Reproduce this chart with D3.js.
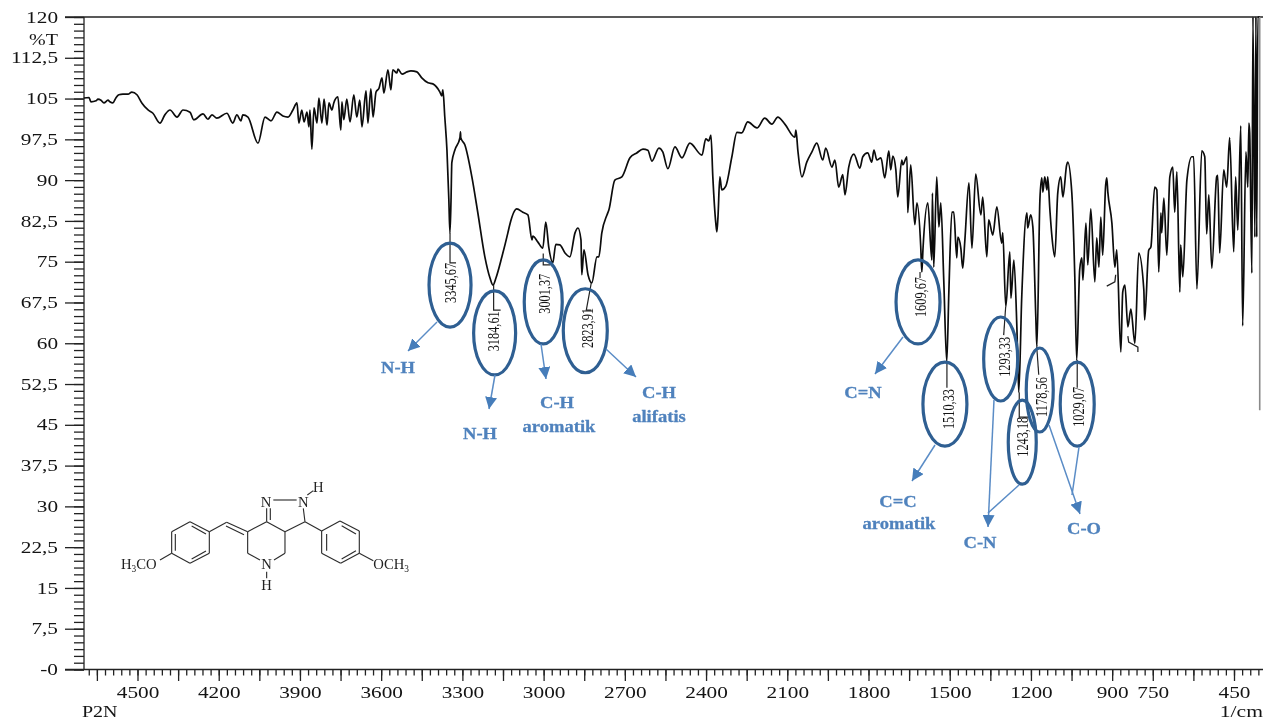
<!DOCTYPE html>
<html>

<head>
	<title>P2N FTIR spectrum</title>
	<style>
		html, body {
			margin: 0;
			background: #fff;
			overflow: hidden;
		}
		svg {
			display: block;
			filter: blur(0.4px);
		}
		text {
			font-family: "Liberation Serif", serif;
			fill: #141414;
		}
		.axis path {
			display: none;
		}
		.axis line, .frame {
			stroke: #222;
			stroke-width: 1.3;
		}
		.tag {
			font-weight: bold;
			font-size: 17.5px;
			fill: #4f82bd;
			stroke: #4f82bd;
			stroke-width: 0.3;
			text-anchor: middle;
		}
	</style>
</head>

<body>
	<script src="https://cdnjs.cloudflare.com/ajax/libs/d3/7.8.5/d3.min.js"></script>
	<script type="text/javascript">
		// spectrum (1/cm and %T)
		var wave = [4698, 4679, 4672, 4653, 4646, 4635, 4624, 4609, 4602, 4591, 4580, 4569, 4554, 4535, 4521, 4502, 4484, 4461, 4443, 4417,
			4399, 4380, 4354, 4332, 4306, 4292, 4258, 4240, 4225, 4207, 4170, 4148, 4133, 4118, 4111, 4092, 4055, 4029, 4007, 3985,
			3963, 3944, 3926, 3911, 3904, 3893, 3885, 3874, 3867, 3863, 3856, 3848, 3837, 3830, 3819, 3811, 3800, 3793, 3782, 3775,
			3760, 3749, 3745, 3738, 3727, 3715, 3701, 3690, 3679, 3671, 3656, 3649, 3638, 3630, 3619, 3608, 3597, 3590, 3575, 3564,
			3557, 3542, 3538, 3523, 3505, 3490, 3468, 3450, 3427, 3409, 3383, 3376, 3372, 3365, 3357, 3350, 3346, 3342, 3339, 3328,
			3309, 3307, 3306, 3291, 3265, 3243, 3217, 3198, 3187, 3176, 3154, 3132, 3125, 3099, 3077, 3058, 3043, 3040, 3021, 3003,
			2992, 2981, 2966, 2955, 2940, 2921, 2903, 2884, 2873, 2862, 2859, 2851, 2836, 2822, 2803, 2796, 2785, 2766, 2759, 2737,
			2711, 2681, 2656, 2633, 2615, 2600, 2574, 2560, 2541, 2515, 2489, 2460, 2415, 2401, 2390, 2382, 2375, 2364, 2360, 2356,
			2349, 2342, 2327, 2305, 2286, 2268, 2246, 2212, 2183, 2157, 2135, 2109, 2072, 2068, 2061, 2046, 2028, 2009, 1991, 1969,
			1958, 1935, 1924, 1910, 1895, 1887, 1873, 1854, 1832, 1821, 1803, 1788, 1780, 1769, 1754, 1740, 1725, 1718, 1710, 1699,
			1692, 1677, 1673, 1658, 1655, 1644, 1629, 1621, 1607, 1603, 1599, 1581, 1566, 1564, 1559, 1548, 1540, 1533, 1522, 1511,
			1503, 1492, 1485, 1474, 1470, 1459, 1452, 1444, 1429, 1418, 1404, 1385, 1378, 1363, 1356, 1341, 1326, 1308, 1304, 1293,
			1278, 1274, 1263, 1252, 1245, 1234, 1215, 1212, 1201, 1193, 1182, 1178, 1167, 1160, 1156, 1149, 1141, 1138, 1130, 1123,
			1112, 1101, 1090, 1082, 1068, 1064, 1049, 1038, 1031, 1020, 1012, 1008, 997, 990, 979, 964, 957, 949, 942, 935,
			924, 920, 916, 901, 890, 883, 868, 861, 853, 842, 831, 816, 802, 783, 780, 765, 757, 743, 735, 728,
			720, 717, 709, 698, 687, 676, 669, 661, 650, 647, 639, 624, 606, 599, 587, 569, 558, 551, 543, 532,
			514, 510, 503, 488, 477, 466, 451, 444, 436, 425, 418, 406, 399, 395, 392, 384, 380, 373, 369, 366, 362, 355, 355];
		var trans = [105.1, 105.2, 104.4, 104.6, 104.9, 104.7, 104.2, 104.7, 104.4, 104.2, 105.1, 105.7, 105.8, 105.8, 106.2, 105.7, 104.2, 102.9, 102.3, 100.5,
			102.0, 102.9, 101.6, 102.9, 102.5, 101.1, 102.2, 101.2, 102.0, 101.4, 102.3, 100.5, 102.0, 100.9, 102.0, 101.6, 96.8, 101.6, 100.9, 102.5,
			101.8, 101.6, 102.9, 104.2, 100.5, 102.9, 100.7, 102.5, 99.8, 102.9, 95.7, 103.3, 100.5, 105.1, 100.5, 104.9, 100.1, 104.2, 102.9, 104.2,
			105.3, 99.2, 104.4, 101.1, 104.9, 100.7, 105.7, 101.6, 104.7, 99.8, 106.4, 100.5, 106.8, 101.6, 106.2, 106.9, 108.8, 106.0, 110.3, 106.6,
			110.3, 109.7, 110.4, 109.5, 109.9, 110.1, 109.9, 108.8, 107.9, 107.7, 106.2, 105.5, 106.6, 101.6, 95.5, 86.3, 80.3, 86.3, 93.2, 95.5,
			97.8, 98.9, 97.8, 96.5, 90.6, 84.0, 75.9, 72.0, 70.7, 72.0, 75.9, 80.3, 81.8, 84.7, 84.1, 83.6, 79.0, 79.7, 78.6, 77.5,
			82.3, 77.7, 74.8, 78.2, 78.1, 76.6, 75.9, 80.3, 81.2, 79.0, 72.6, 77.2, 72.6, 71.1, 75.9, 75.9, 80.3, 83.6, 84.5, 90.0,
			90.6, 94.1, 95.0, 95.7, 95.5, 93.5, 95.9, 95.2, 92.1, 96.1, 94.1, 96.8, 94.6, 97.6, 97.2, 98.3, 90.6, 82.1, 80.5, 83.2,
			90.6, 88.2, 88.9, 94.2, 98.8, 98.7, 100.7, 99.6, 101.4, 100.3, 101.6, 100.3, 97.9, 99.2, 95.5, 90.6, 93.3, 95.2, 96.8, 93.7,
			95.9, 92.4, 93.7, 88.7, 91.0, 87.3, 92.4, 94.8, 92.2, 94.3, 95.0, 93.3, 95.5, 93.7, 94.1, 90.4, 95.4, 91.9, 94.4, 91.9,
			86.9, 93.7, 92.8, 94.3, 84.0, 92.8, 81.8, 85.8, 77.7, 73.1, 77.1, 85.8, 75.3, 87.6, 74.0, 90.6, 81.4, 85.8, 71.6, 56.6,
			69.8, 84.1, 84.1, 75.7, 79.5, 77.5, 73.8, 79.0, 89.5, 77.5, 91.1, 83.6, 86.9, 75.9, 82.7, 79.9, 85.1, 78.4, 80.3, 66.7,
			76.8, 68.3, 75.3, 63.0, 51.0, 68.5, 84.0, 81.2, 83.6, 81.4, 64.8, 59.3, 86.3, 90.4, 87.8, 90.6, 88.2, 90.6, 84.5, 79.9,
			75.9, 87.6, 90.6, 86.9, 92.8, 93.3, 87.6, 72.2, 56.9, 73.5, 75.7, 71.6, 82.1, 74.4, 84.7, 71.3, 79.4, 74.0, 83.2, 76.2,
			89.1, 90.4, 87.8, 82.1, 74.0, 77.2, 58.4, 69.4, 70.7, 63.0, 66.3, 60.0, 76.6, 69.8, 64.3, 77.1, 77.7, 88.7, 88.2, 73.1,
			84.0, 80.3, 86.7, 76.2, 90.6, 92.4, 84.1, 91.5, 69.4, 78.1, 72.2, 90.0, 94.3, 94.3, 70.0, 95.4, 94.3, 80.1, 87.3, 73.8,
			90.6, 90.9, 76.6, 91.9, 88.7, 97.8, 76.8, 90.6, 80.8, 100.0, 63.2, 95.2, 88.7, 100.5, 98.7, 72.9, 120, 79.5, 120, 79.5, 120, 120, 47.7];

		// broken bits of trace near 900 and 820 1/cm
		var bitsWave = [[920, 890, 887], [842, 839, 805, 805]];
		var bitsTrans = [[70.5, 71.3, 72.6], [61.3, 60.2, 59.3, 58.4]];

		// axis labels
		var xTickLabels = [4500, 4200, 3900, 3600, 3300, 3000, 2700, 2400, 2100, 1800, 1500, 1200, 900, 750, 450];

		// picked peaks
		var peakWave = [3345.67, 3184.61, 3001.37, 2823.91, 1609.67, 1510.33, 1293.33, 1243.18, 1178.56, 1029.07];
		var peakTrans = [80.3, 70.7, 76.5, 71.1, 73.1, 56.6, 66.7, 51.0, 59.3, 56.9];
		var peakNames = ["3345,67", "3184,61", "3001,37", "2823,91", "1609,67", "1510,33", "1293,33", "1243,18", "1178,56", "1029,07"];

		// overlay layout, one row per peak
		var ovalShift = [0, 1, 0, -6, -2, -2, -5, 3, 3, 0];
		var ovalMid = [70.7, 61.9, 67.6, 62.3, 67.6, 48.8, 57.1, 41.8, 51.4, 48.8];
		var ovalWide = [21, 21, 19, 22, 22, 22, 17, 14, 13.5, 17];
		var nameShift = [1, 0, 1, -4, 1, 2, -1, 3, 5, 1];
		var nameMid = [71.1, 62.2, 69.1, 62.8, 68.5, 47.9, 57.5, 42.8, 50.1, 48.3];
		var stemEnd = [74.8, 66.1, 74.4, 66.1, 72.0, 51.8, 61.5, 46.4, 54.2, 51.8];
		var stemBend = [0, 0, 0, -5, 0, 0, -2, 0, 2, 0];
		var stemDash = [6, 7, 7, 5, 0, 0, 0, 9, 0, 0];

		var arrows = [[437, 322, 408, 351], [495, 375, 489, 409], [541, 344, 546, 379], [606, 349, 636, 377], [903, 337, 875, 374],
			[935, 445, 912, 481], [994, 400, 988, 527], [1049, 425, 1080, 514]];
		var plainLines = [[1019, 485, 988, 513], [1079, 447, 1072, 495]];
		var tags = [["N-H", 398, 373], ["N-H", 480, 439], ["C-H", 557, 408], ["aromatik", 559, 432], ["C-H", 659, 398], ["alifatis", 659, 422],
			["C=N", 863, 398], ["C=C", 898, 507], ["aromatik", 899, 529], ["C-N", 980, 548], ["C-O", 1084, 534]];

		// structure drawing, in 3x units
		var bonds = [[270, 185, 328, 215], [328, 215, 328, 280], [328, 280, 270, 310], [270, 310, 215, 280], [215, 280, 215, 215], [215, 215, 270, 185],
			[275, 198, 318, 222], [318, 273, 275, 297], [226, 272, 226, 222], [215, 280, 180, 300], [328, 215, 380, 187], [380, 187, 443, 215],
			[378, 198, 432, 224], [443, 215, 500, 185], [500, 185, 555, 215], [555, 215, 555, 280], [555, 280, 522, 300], [480, 300, 443, 280],
			[443, 280, 443, 215], [500, 335, 500, 355], [500, 185, 500, 145], [511, 180, 511, 145], [520, 120, 590, 120], [622, 105, 640, 92],
			[610, 145, 615, 185], [615, 185, 555, 215], [615, 185, 665, 213], [665, 213, 720, 183], [720, 183, 778, 213], [778, 213, 778, 280],
			[778, 280, 722, 310], [722, 310, 665, 280], [665, 280, 665, 213], [680, 222, 680, 272], [725, 197, 768, 222], [768, 272, 725, 297],
			[778, 280, 820, 302]];
		var atoms = [["N", 498, 140], ["N", 610, 140], ["H", 655, 95], ["N", 500, 328], ["H", 500, 390]];

		var width = 1263;
		var height = 720;

		var svg = d3.select("body").append("svg")
			.attr("width", width)
			.attr("height", height);

		var x = d3.scaleLinear().domain([4500, 450]).range([137.5, 1234]);
		var y = d3.scaleLinear().domain([0, 120]).range([669.5, 17]);

		var plotLeft = x(4697.6);
		var tickLeft = plotLeft - 19;

		// textLength keeps the wide look of the original lettering
		function stretch(sel, k) {
			sel.each(function() {
				var len = this.getComputedTextLength();
				d3.select(this).attr("textLength", len * k).attr("lengthAdjust", "spacingAndGlyphs");
			});
		}

		// axes
		var yMinor = d3.range(0, 120.01, 1.25);
		var yMajor = d3.range(0, 120.01, 7.5);
		var xMinor = d3.range(4680, 340, -30);
		var xMajor = d3.range(4650, 340, -150);

		svg.append("g").attr("class", "axis")
			.attr("transform", "translate(" + plotLeft + ",0)")
			.call(d3.axisLeft(y).tickValues(yMinor).tickSize(10).tickFormat(""));
		var yAxis = svg.append("g").attr("class", "axis")
			.attr("transform", "translate(" + plotLeft + ",0)")
			.call(d3.axisLeft(y).tickValues(yMajor).tickSize(19).tickPadding(7)
				.tickFormat(function(d) { return d === 0 ? "-0" : String(d).replace(".", ","); }));
		svg.append("g").attr("class", "axis")
			.attr("transform", "translate(0," + y(0) + ")")
			.call(d3.axisBottom(x).tickValues(xMinor).tickSize(6).tickFormat(""));
		var xAxis = svg.append("g").attr("class", "axis")
			.attr("transform", "translate(0," + y(0) + ")")
			.call(d3.axisBottom(x).tickValues(xMajor).tickSize(11.5).tickPadding(5.5)
				.tickFormat(function(d) { return xTickLabels.indexOf(d) >= 0 ? d : ""; }));

		yAxis.selectAll("text").style("font-size", "16px").call(stretch, 1.33);
		xAxis.selectAll("text").style("font-size", "16px").call(stretch, 1.33);

		svg.append("line").attr("class", "frame")
			.attr("x1", tickLeft).attr("x2", width)
			.attr("y1", y(120)).attr("y2", y(120));
		svg.append("line").attr("class", "frame")
			.attr("x1", plotLeft).attr("x2", plotLeft)
			.attr("y1", y(120)).attr("y2", y(0));
		svg.append("line").attr("class", "frame")
			.attr("x1", tickLeft).attr("x2", width)
			.attr("y1", y(0)).attr("y2", y(0));

		svg.append("text").attr("x", 58).attr("y", 45).attr("text-anchor", "end")
			.style("font-size", "16px").text("%T").call(stretch, 1.25);
		svg.append("text").attr("x", 82).attr("y", 717)
			.style("font-size", "16px").text("P2N").call(stretch, 1.25);
		svg.append("text").attr("x", width).attr("y", 717).attr("text-anchor", "end")
			.style("font-size", "16px").text("1/cm").call(stretch, 1.35);

		// spectrum
		var line = d3.line()
			.x(function(d) { return x(d[0]); })
			.y(function(d) { return y(d[1]); })
			.curve(d3.curveMonotoneX);

		var points = d3.zip(wave, trans);
		svg.append("path")
			.attr("d", line(points.slice(0, -1)))
			.attr("fill", "none")
			.attr("stroke", "#0c0c0c")
			.attr("stroke-width", 1.7)
			.attr("stroke-linejoin", "round");
		svg.append("path")
			.attr("d", line(points.slice(-2)))
			.attr("fill", "none")
			.attr("stroke", "#8a8a8a")
			.attr("stroke-width", 1.6);
		bitsWave.forEach(function(w, i) {
			svg.append("path")
				.attr("d", d3.line()
					.x(function(d) { return x(d[0]); })
					.y(function(d) { return y(d[1]); })(d3.zip(w, bitsTrans[i])))
				.attr("fill", "none")
				.attr("stroke", "#222")
				.attr("stroke-width", 1.3);
		});

		// peak stems, ovals and numbers
		peakWave.forEach(function(w, i) {
			var px = x(w);
			var stem = "M" + px + "," + y(peakTrans[i]) +
				"L" + (px + stemBend[i]) + "," + y(stemEnd[i]) +
				"h" + stemDash[i];
			svg.append("path").attr("d", stem)
				.attr("fill", "none").attr("stroke", "#222").attr("stroke-width", 1.2);

			svg.append("ellipse")
				.attr("cx", px + ovalShift[i])
				.attr("cy", y(ovalMid[i]))
				.attr("rx", ovalWide[i])
				.attr("ry", 42)
				.attr("fill", "none")
				.attr("stroke", "#2f5f92")
				.attr("stroke-width", 3.2);

			svg.append("text")
				.attr("transform", "translate(" + (px + nameShift[i]) + "," + y(nameMid[i]) + ") rotate(-90)")
				.attr("text-anchor", "middle")
				.attr("dy", "0.34em")
				.attr("textLength", 40)
				.attr("lengthAdjust", "spacingAndGlyphs")
				.style("font-size", "16px")
				.text(peakNames[i]);
		});

		// arrows and group names
		svg.append("defs").append("marker")
			.attr("id", "head")
			.attr("markerUnits", "userSpaceOnUse")
			.attr("viewBox", "0 0 10 10")
			.attr("refX", 10).attr("refY", 5)
			.attr("markerWidth", 12).attr("markerHeight", 12)
			.attr("orient", "auto")
			.append("path")
			.attr("d", "M0,0L10,5L0,10Z")
			.attr("fill", "#467dba");

		svg.selectAll(".arrow").data(arrows).enter().append("line")
			.attr("class", "arrow")
			.attr("x1", function(d) { return d[0]; })
			.attr("y1", function(d) { return d[1]; })
			.attr("x2", function(d) { return d[2]; })
			.attr("y2", function(d) { return d[3]; })
			.attr("stroke", "#5a8cc6")
			.attr("stroke-width", 1.5)
			.attr("marker-end", "url(#head)");
		svg.selectAll(".plain").data(plainLines).enter().append("line")
			.attr("class", "plain")
			.attr("x1", function(d) { return d[0]; })
			.attr("y1", function(d) { return d[1]; })
			.attr("x2", function(d) { return d[2]; })
			.attr("y2", function(d) { return d[3]; })
			.attr("stroke", "#5a8cc6")
			.attr("stroke-width", 1.5);

		svg.selectAll(".tag").data(tags).enter().append("text")
			.attr("class", "tag")
			.attr("x", function(d) { return d[1]; })
			.attr("y", function(d) { return d[2]; })
			.text(function(d) { return d[0]; })
			.call(stretch, 1.06);

		// molecule
		var mol = svg.append("g").attr("transform", "translate(100,460) scale(0.3333)");
		mol.selectAll("line").data(bonds).enter().append("line")
			.attr("x1", function(d) { return d[0]; })
			.attr("y1", function(d) { return d[1]; })
			.attr("x2", function(d) { return d[2]; })
			.attr("y2", function(d) { return d[3]; })
			.attr("stroke", "#2c2c2c")
			.attr("stroke-width", 3.4);
		mol.selectAll("text.atom").data(atoms).enter().append("text")
			.attr("class", "atom")
			.attr("x", function(d) { return d[1]; })
			.attr("y", function(d) { return d[2]; })
			.attr("text-anchor", "middle")
			.style("font-size", "44px")
			.style("fill", "#222")
			.text(function(d) { return d[0]; });

		var left = mol.append("text").attr("x", 63).attr("y", 326).style("font-size", "44px").style("fill", "#222");
		left.append("tspan").text("H");
		left.append("tspan").attr("dy", 9).style("font-size", "28px").text("3");
		left.append("tspan").attr("dy", -9).text("CO");
		var right = mol.append("text").attr("x", 820).attr("y", 326).style("font-size", "44px").style("fill", "#222");
		right.append("tspan").text("OCH");
		right.append("tspan").attr("dy", 9).style("font-size", "28px").text("3");
	</script>
</body>

</html>
